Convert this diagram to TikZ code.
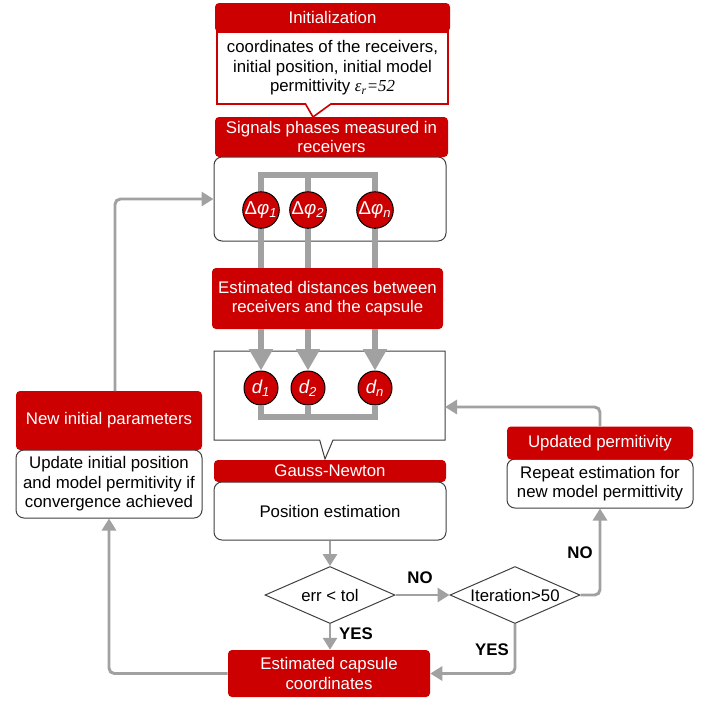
\documentclass[tikz,border=0pt]{standalone}
\usepackage{fontspec}
\setmainfont{Liberation Sans}
\newfontfamily\tiempos{Liberation Serif}
\usetikzlibrary{arrows.meta,shapes.geometric,shapes.callouts}
\begin{document}
\begin{tikzpicture}[x=0.75pt,y=-0.75pt,
    txt/.style={font=\fontsize{12.6}{14.6}\selectfont, align=center},
    cab/.style={txt, fill=rojo, text=white, rounded corners=3pt, inner sep=0pt},
    caja/.style={txt, draw=borde, fill=white, rounded corners=6pt, line width=0.75pt, inner sep=0pt},
    circ/.style={circle, fill=rojo, draw=black, line width=0.75pt, text=white, minimum size=25.5pt, inner sep=0pt, font=\fontsize{14}{14}\selectfont},
    tubo/.style={draw=gris, line width=5pt},
    flecha/.style={draw=gris, line width=2.2pt, rounded corners=4pt, -{Triangle[width=10.5pt,length=9pt]}},
    rombo/.style={txt, diamond, aspect=2.28, draw=borde, line width=0.75pt, inner sep=0pt, minimum width=97.5pt, minimum height=42.75pt},
    etiq/.style={font=\fontsize{12.6}{14.6}\selectfont\bfseries}]
    %colores
    \colorlet{rojo}{red!80!black}
    \colorlet{gris}{black!37}
    \colorlet{borde}{black!75}

    \useasboundingbox (0,0) rectangle (712,701);

    % Inicializacion
    \node[cab, minimum width=176.25pt, minimum height=21.75pt] (ini) at (332.5,17.5) {Initialization};
    \node[caja, rectangle callout, sharp corners, callout absolute pointer={(313,117)}, callout pointer width=19pt, draw=rojo, line width=1.2pt, minimum width=173.25pt, minimum height=54pt] (inib) at (332.5,68) {coordinates of the receivers,\\initial position, initial model\\permittivity {\tiempos\itshape ε\textsubscript{r}=52}};
    \node[cab, minimum width=174.75pt, minimum height=30pt] (sen) at (331.5,137) {Signals phases measured in\\receivers};
    \node[caja, minimum width=174pt, minimum height=63pt] (fases) at (330,199) {};

    % Fases
    \node[circ] (p1) at (261,210) {Δ\textit{φ\textsubscript{1}}};
    \node[circ] (p2) at (308,210) {Δ\textit{φ\textsubscript{2}}};
    \node[circ] (pn) at (375,210) {Δ\textit{φ\textsubscript{n}}};

    % Distancias
    \node[cab, minimum width=173.25pt, minimum height=45.75pt] (dist) at (327.5,298.5) {Estimated distances between\\receivers and the capsule};
    \node[caja, rectangle callout, sharp corners, callout absolute pointer={(325,459)}, callout pointer width=10pt, minimum width=173.25pt, minimum height=66.75pt] (dcaja) at (329.5,395.5) {};
    \node[circ] (d1) at (261,388) {\textit{d\textsubscript{1}}};
    \node[circ] (d2) at (308,388) {\textit{d\textsubscript{2}}};
    \node[circ] (dn) at (375,388) {\textit{d\textsubscript{n}}};

    % Tubos
    \coordinate (ptop) at (0,175);
    \coordinate (pbot) at (0,417);
    \draw[tubo] (p1.north) |- (ptop -| pn) -- (pn.north);
    \draw[tubo] (p2.north) -- (p2 |- ptop);
    \foreach \i in {1,2,n}{
        \draw[tubo] (p\i.south) -- (p\i |- dist.north);
        \draw[tubo, -{Triangle[width=17pt,length=16pt]}] (d\i |- dist.south) -- (d\i.north);
    }
    \draw[tubo] (d1.south) |- (pbot -| dn) -- (dn.south);
    \draw[tubo] (d2.south) -- (d2 |- pbot);

    % Gauss-Newton
    \node[caja, minimum width=174pt, minimum height=43.5pt] (pos) at (330,511) {Position estimation};
    \node[cab, minimum width=174pt, minimum height=16.5pt] (gn) at (330,471) {Gauss-Newton};
    \node[rombo] (err) at (330,595) {err < tol};
    \node[rombo] (iter) at (515,595) {Iteration>50};

    % Permitividad
    \node[caja, minimum width=139.5pt, minimum height=36.75pt] (updb) at (600,483.5) {Repeat estimation for\\new model permittivity};
    \node[cab, minimum width=139.5pt, minimum height=24.75pt] (upd) at (600,443) {Updated permitivity};

    % Nuevos parametros
    \node[caja, minimum width=139.5pt, minimum height=51pt] (nueb) at (109,484) {Update initial position\\and model permitivity if\\convergence achieved};
    \node[cab, minimum width=139.5pt, minimum height=44.25pt] (nue) at (109,420.5) {New initial parameters};
    \node[cab, minimum width=151.5pt, minimum height=35.25pt] (cap) at (329,673.5) {Estimated capsule\\coordinates};

    % Flechas
    \coordinate (dent) at (445,407);
    \coordinate (sube) at (115,391);
    \draw[flecha] (pos.south) -- (err.north);
    \draw[flecha] (err.east) -- (iter.west);
    \draw[flecha] (err.south) -- (err.south |- cap.north);
    \draw[flecha] (iter.east) -| (updb.south);
    \draw[flecha] (iter.south) |- (cap.east);
    \draw[flecha] (upd.north) |- (dent);
    \draw[flecha] (cap.west) -| (nueb.south);
    \draw[flecha] (sube) |- (fases.west);

    % Etiquetas
    \node[etiq] (no1) at (420,578) {NO};
    \node[etiq] (no2) at (580,553) {NO};
    \node[etiq] (si1) at (356,634) {YES};
    \node[etiq] (si2) at (492,650) {YES};
\end{tikzpicture}
\end{document}
